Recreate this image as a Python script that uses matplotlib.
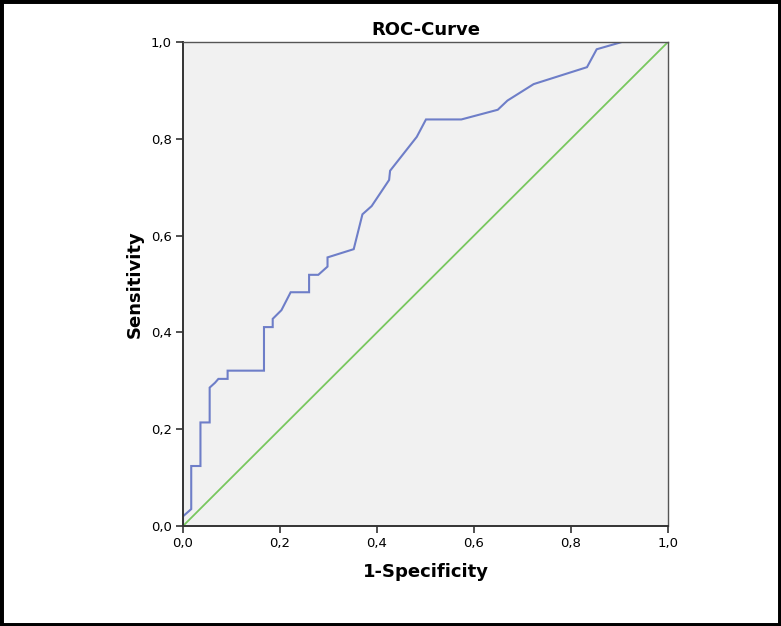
import numpy as np
import matplotlib.pyplot as plt
from matplotlib.patches import Rectangle
from matplotlib.ticker import FuncFormatter

# ROC curve points
fpr = [0.0, 0.0, 0.017, 0.017, 0.036, 0.036, 0.055, 0.055, 0.066, 0.073, 0.092, 0.092,
       0.167, 0.167, 0.185, 0.185, 0.203, 0.222, 0.260, 0.260, 0.279, 0.298, 0.298,
       0.352, 0.370, 0.389, 0.425, 0.427, 0.482, 0.501, 0.574, 0.649, 0.669, 0.723,
       0.833, 0.853, 0.905, 1.0]
tpr = [0.0, 0.020, 0.035, 0.124, 0.124, 0.214, 0.214, 0.286, 0.296, 0.304, 0.304, 0.321,
       0.321, 0.411, 0.411, 0.428, 0.446, 0.483, 0.483, 0.519, 0.519, 0.536, 0.555,
       0.572, 0.644, 0.661, 0.715, 0.734, 0.804, 0.840, 0.840, 0.860, 0.879, 0.913,
       0.948, 0.985, 1.0, 1.0]
ref_line = [0.0, 1.0]
ticks = [0.0, 0.2, 0.4, 0.6, 0.8, 1.0]

fig = plt.figure(figsize=(7.81, 6.26), dpi=100)
ax = fig.add_axes([0.2343, 0.1597, 0.6210, 0.7732])
ax.set_facecolor('#f1f1f1')

ax.plot(fpr, tpr, color='#6e7ec8', lw=1.5, solid_joinstyle='miter')
ax.plot(ref_line, ref_line, color='#78c75e', lw=1.3)

ax.set_xlim(0, 1)
ax.set_ylim(0, 1)
ax.set_xticks(ticks)
ax.set_yticks(ticks)
fmt = FuncFormatter(lambda v, p: ('%.1f' % v).replace('.', ','))
ax.xaxis.set_major_formatter(fmt)
ax.yaxis.set_major_formatter(fmt)
ax.tick_params(direction='out', length=5, width=1.2, labelsize=9.5, color='#333333', pad=3)

for s in ['left', 'bottom']:
    ax.spines[s].set_linewidth(1.4)
    ax.spines[s].set_color('#333333')
for s in ['top', 'right']:
    ax.spines[s].set_linewidth(1.0)
    ax.spines[s].set_color('#555555')

ax.set_title('ROC-Curve', fontsize=13, fontweight='bold', pad=5)
ax.set_xlabel('1-Specificity', fontsize=13, fontweight='bold', labelpad=9)
ax.set_ylabel('Sensitivity', fontsize=13, fontweight='bold', labelpad=5)

fig.patches.append(Rectangle((0, 0), 1, 1, transform=fig.transFigure, fill=False,
                             edgecolor='black', linewidth=5, zorder=10))

fig.savefig('out.png', dpi=100, facecolor='white')
